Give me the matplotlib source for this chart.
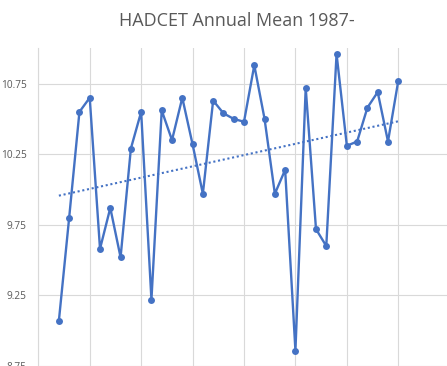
import numpy as np
import matplotlib
matplotlib.use("Agg")
import matplotlib.pyplot as plt

# HadCET annual mean temperature (degC)
years = list(range(1987, 2021))
temps = [
    9.07, 9.80, 10.55, 10.65, 9.58, 9.87, 9.52, 10.29, 10.55, 9.22,
    10.56, 10.35, 10.65, 10.32, 9.97, 10.63, 10.54, 10.50, 10.48, 10.88,
    10.50, 9.97, 10.14, 8.86, 10.72, 9.72, 9.60, 10.96, 10.31, 10.34,
    10.58, 10.69, 10.34, 10.77,
]
y_ticks = [8.75, 9.25, 9.75, 10.25, 10.75]
x_grid = [1985, 1990, 1995, 2000, 2005, 2010, 2015, 2020, 2025]

BLUE = "#4472C4"
GRID = "#D9D9D9"
TEXT = "#595959"
FONT = ["Open Sans", "DejaVu Sans"]

W, H = 447, 366
fig = plt.figure(figsize=(W / 100, H / 100), dpi=100, facecolor="white")
# plot area is cropped on the right and at the bottom, as in the reference
ax = fig.add_axes([38.3 / W, -0.1 / H, 411.4 / W, 317.8 / H])

x = np.array(years, dtype=float)
y = np.array(temps)

# linear trendline (least squares), dotted
k, b = np.polyfit(x, y, 1)
ax.plot(x, k * x + b, color=BLUE, linewidth=1.5, linestyle=(0, (1, 1.3)), zorder=2)

ax.plot(x, y, color=BLUE, linewidth=1.7, marker="o", markersize=5,
        markeredgewidth=0, zorder=3, clip_on=False)

ax.set_xlim(1985, 2025)
ax.set_ylim(8.75, 11.0)
ax.set_yticks(y_ticks)
ax.set_yticklabels([f"{v:.2f}" for v in y_ticks], family=FONT)
ax.set_xticks(x_grid)
ax.set_xticklabels([])
ax.grid(True, color=GRID, linewidth=0.8)
ax.set_axisbelow(True)
ax.tick_params(length=0, pad=8.3, labelsize=7.3, labelcolor=TEXT)
for s in ["top", "right", "bottom"]:
    ax.spines[s].set_visible(False)
ax.spines["left"].set_color(GRID)
ax.spines["left"].set_linewidth(0.8)

fig.text(237 / W, 1 - 20.7 / H, "HADCET Annual Mean 1987-", ha="center", va="center",
         fontsize=13, color=TEXT, family=FONT)

fig.savefig("out.png", dpi=100, facecolor="white")
